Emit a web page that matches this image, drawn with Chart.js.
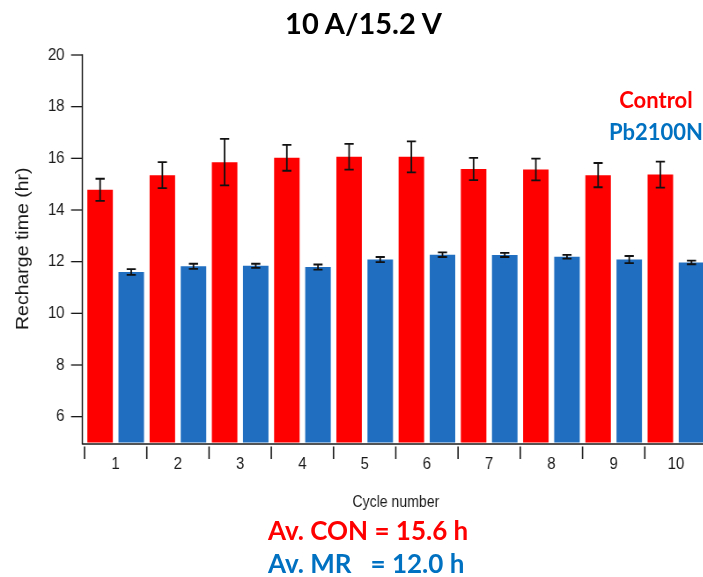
<!DOCTYPE html>
<html><head><meta charset="utf-8">
<script src="https://cdn.jsdelivr.net/npm/chart.js@4.4.1/dist/chart.umd.min.js"></script>
<style>
html,body{margin:0;padding:0;background:#fff;width:703px;height:577px;overflow:hidden;position:relative;}
#c{position:absolute;left:0;top:0;}
.t{position:absolute;font-family:Lato,"Open Sans",sans-serif;font-weight:700;white-space:pre;line-height:1;}
</style></head><body>
<canvas id="c" width="820" height="577" style="width:721.6px;height:577px"></canvas>
<div class="t" style="left:0;width:727px;text-align:center;top:8px;font-size:29px;color:#000">10 A/15.2 V</div>
<div class="t" style="left:556px;width:200px;text-align:center;top:89px;font-size:22px;color:#FF0000">Control</div>
<div class="t" style="left:556px;width:200px;text-align:center;top:121px;font-size:22px;color:#0070C0">Pb2100N</div>
<div class="t" style="left:268px;top:517px;font-size:26px;color:#FF0000">Av. CON = 15.6 h</div>
<div class="t" style="left:268px;top:550px;font-size:26px;color:#0070C0">Av. MR   = 12.0 h</div>
<script>
const cycles = ['1','2','3','4','5','6','7','8','9','10'];
const control    = [14.78, 15.35, 15.85, 16.02, 16.06, 16.06, 15.59, 15.57, 15.35, 15.37];
const controlErr = [0.43, 0.50, 0.90, 0.50, 0.50, 0.60, 0.43, 0.42, 0.47, 0.50];
const pb         = [11.60, 11.82, 11.84, 11.79, 12.08, 12.27, 12.26, 12.19, 12.08, 11.97];
const pbErr      = [0.11, 0.10, 0.08, 0.10, 0.10, 0.09, 0.08, 0.07, 0.14, 0.07];
const yTicks = [6, 8, 10, 12, 14, 16, 18, 20];
const errors = [controlErr, pbErr];

const INK = '#1a1a1a';
const AXIS_GAP = 2.5;

const errorBars = {
  id: 'errorBars',
  afterDatasetsDraw(chart) {
    const ctx = chart.ctx, y = chart.scales.y;
    ctx.save();
    ctx.strokeStyle = '#111';
    ctx.lineWidth = 1.8;
    chart.data.datasets.forEach((ds, di) => {
      const meta = chart.getDatasetMeta(di);
      meta.data.forEach((el, i) => {
        const v = ds.data[i], e = errors[di][i];
        const yt = y.getPixelForValue(v + e), yb = y.getPixelForValue(v - e);
        const x = el.x, hw = 5.2;
        ctx.beginPath();
        ctx.moveTo(x, yt); ctx.lineTo(x, yb);
        ctx.moveTo(x - hw, yt); ctx.lineTo(x + hw, yt);
        ctx.moveTo(x - hw, yb); ctx.lineTo(x + hw, yb);
        ctx.stroke();
      });
    });
    ctx.restore();
  }
};

const axes = {
  id: 'axesLines',
  afterDraw(chart) {
    const {ctx, chartArea: a, scales: {x, y}} = chart;
    const ax = a.left - AXIS_GAP;
    const axisY = a.bottom + 1.5;
    ctx.save();
    ctx.strokeStyle = INK;
    ctx.lineWidth = 1.5;
    ctx.beginPath();
    ctx.moveTo(ax, y.getPixelForValue(20) - 0.7);
    ctx.lineTo(ax, axisY + 0.6);
    ctx.stroke();
    ctx.lineWidth = 1.3;
    yTicks.forEach(v => {
      const py = y.getPixelForValue(v);
      ctx.beginPath(); ctx.moveTo(ax - 12.8, py); ctx.lineTo(ax, py); ctx.stroke();
    });
    ctx.beginPath(); ctx.moveTo(ax, axisY); ctx.lineTo(chart.width, axisY); ctx.stroke();
    const w = x.getPixelForValue(1) - x.getPixelForValue(0);
    ctx.lineWidth = 1.6;
    for (let i = 0; i <= cycles.length; i++) {
      const px = x.getPixelForValue(0) - w / 2 + i * w;
      ctx.beginPath(); ctx.moveTo(px, axisY + 2.5); ctx.lineTo(px, axisY + 15); ctx.stroke();
    }
    ctx.restore();
  }
};

new Chart(document.getElementById('c'), {
  type: 'bar',
  data: {
    labels: cycles,
    datasets: [
      {label: 'Control', data: control, backgroundColor: '#FF0000', borderWidth: 0,
       categoryPercentage: 1.0, barPercentage: 0.82},
      {label: 'Pb2100N', data: pb, backgroundColor: '#1F6EC0', borderWidth: 0,
       categoryPercentage: 1.0, barPercentage: 0.82}
    ]
  },
  options: {
    responsive: false,
    animation: false,
    devicePixelRatio: 1,
    layout: {padding: {top: 55, right: 17, bottom: 0, left: 0}},
    plugins: {legend: {display: false}, tooltip: {enabled: false}, title: {display: false}},
    scales: {
      x: {
        type: 'category', offset: true,
        grid: {display: false, drawTicks: false},
        border: {display: false},
        ticks: {font: {family: '"Liberation Sans", Arial, sans-serif', size: 17}, color: INK,
                padding: 11.3, maxRotation: 0, autoSkip: false},
        title: {display: true, text: 'Cycle number', color: INK,
                font: {family: '"Liberation Sans", Arial, sans-serif', size: 16},
                padding: {top: 0, bottom: 64.9}},
        afterFit(s) { s.height = 134.5; }
      },
      y: {
        min: 5, max: 20,
        afterBuildTicks(s) { s.ticks = yTicks.map(v => ({value: v})); },
        grid: {display: false, drawTicks: false},
        border: {display: false},
        ticks: {font: {family: '"Liberation Sans", Arial, sans-serif', size: 17}, color: INK, padding: 22.7},
        title: {display: true, text: 'Recharge time (hr)', color: INK,
                font: {family: '"Liberation Sans", Arial, sans-serif', size: 19.5},
                padding: {top: 15.3, bottom: 0}},
        afterFit(s) { s.width = 96; }
      }
    }
  },
  plugins: [errorBars, axes]
});
</script>
</body></html>
